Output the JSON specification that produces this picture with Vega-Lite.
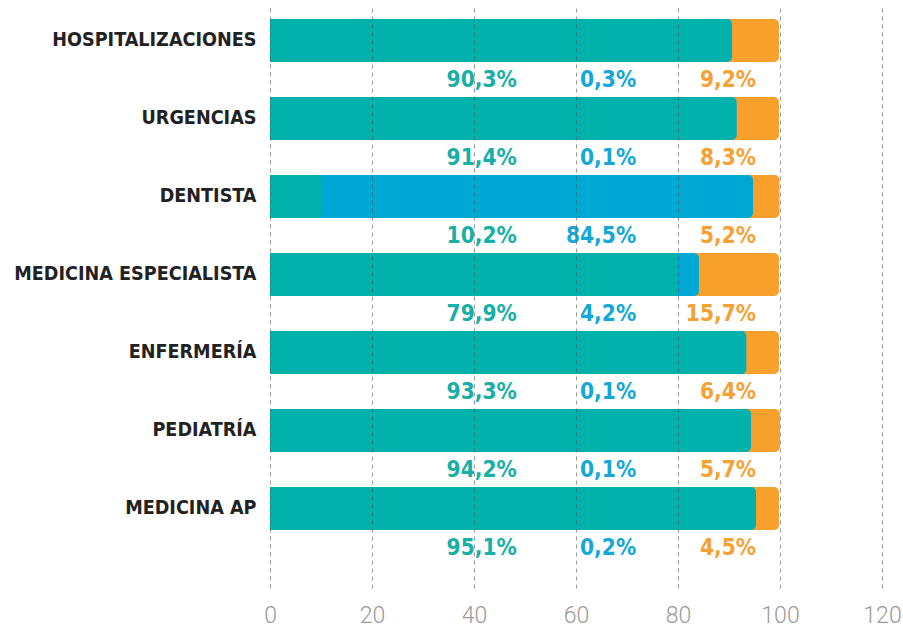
{
  "$schema": "https://vega.github.io/schema/vega-lite/v6.json",
  "autosize": {"type": "none"},
  "width": 612,
  "height": 580,
  "padding": {"left": 270, "top": 8, "right": 21, "bottom": 41},
  "background": "white",
  "config": {"view": {"stroke": null}},
  "data": {"values": [
    {"cat": "HOSPITALIZACIONES", "serie": "A", "o": 1, "v": 90.3},
    {"cat": "HOSPITALIZACIONES", "serie": "B", "o": 2, "v": 0.3},
    {"cat": "HOSPITALIZACIONES", "serie": "C", "o": 3, "v": 9.2},
    {"cat": "URGENCIAS", "serie": "A", "o": 1, "v": 91.4},
    {"cat": "URGENCIAS", "serie": "B", "o": 2, "v": 0.1},
    {"cat": "URGENCIAS", "serie": "C", "o": 3, "v": 8.3},
    {"cat": "DENTISTA", "serie": "A", "o": 1, "v": 10.2},
    {"cat": "DENTISTA", "serie": "B", "o": 2, "v": 84.5},
    {"cat": "DENTISTA", "serie": "C", "o": 3, "v": 5.2},
    {"cat": "MEDICINA ESPECIALISTA", "serie": "A", "o": 1, "v": 79.9},
    {"cat": "MEDICINA ESPECIALISTA", "serie": "B", "o": 2, "v": 4.2},
    {"cat": "MEDICINA ESPECIALISTA", "serie": "C", "o": 3, "v": 15.7},
    {"cat": "ENFERMERÍA", "serie": "A", "o": 1, "v": 93.3},
    {"cat": "ENFERMERÍA", "serie": "B", "o": 2, "v": 0.1},
    {"cat": "ENFERMERÍA", "serie": "C", "o": 3, "v": 6.4},
    {"cat": "PEDIATRÍA", "serie": "A", "o": 1, "v": 94.2},
    {"cat": "PEDIATRÍA", "serie": "B", "o": 2, "v": 0.1},
    {"cat": "PEDIATRÍA", "serie": "C", "o": 3, "v": 5.7},
    {"cat": "MEDICINA AP", "serie": "A", "o": 1, "v": 95.1},
    {"cat": "MEDICINA AP", "serie": "B", "o": 2, "v": 0.2},
    {"cat": "MEDICINA AP", "serie": "C", "o": 3, "v": 4.5}
  ]},
  "transform": [
    {"calculate": "replace(format(datum.v, '.1f'), '.', ',') + '%'", "as": "lbl"},
    {"stack": "v", "groupby": ["cat"], "sort": [{"field": "o", "order": "ascending"}], "as": ["s0", "s1"]}
  ],
  "encoding": {
    "y": {
      "field": "cat", "type": "nominal", "sort": null,
      "scale": {"paddingInner": 0.449, "paddingOuter": 0.4423, "align": 0.159},
      "axis": {
        "title": null, "domain": false, "ticks": false, "labelPadding": 14,
        "labelFont": "DejaVu Sans Condensed, Liberation Sans Narrow, DejaVu Sans",
        "labelFontWeight": "bold", "labelFontSize": 19.6, "labelColor": "#222222",
        "labelLimit": 400
      }
    }
  },
  "layer": [
    {
      "mark": {"type": "bar", "cornerRadiusTopRight": 5, "cornerRadiusBottomRight": 5},
      "encoding": {
        "x": {
          "field": "s1", "type": "quantitative", "stack": null,
          "scale": {"domain": [0, 120], "nice": false, "zero": true},
          "axis": {
            "title": null, "domain": false, "ticks": false, "values": [0, 20, 40, 60, 80, 100, 120],
            "grid": true, "gridDash": [4, 4], "gridColor": "#555555", "gridOpacity": 0.6, "gridWidth": 1,
            "zindex": 1, "labelPadding": 16, "labelFlush": false, "labelFont": "Roboto", "labelFontWeight": 300,
            "labelFontSize": 23, "labelColor": "#9a9a9a"
          }
        },
        "color": {
          "field": "serie", "type": "nominal",
          "scale": {"domain": ["A", "B", "C"], "range": ["#00B2AB", "#00A8D6", "#F7A12C"]},
          "legend": null
        },
        "order": {"field": "o", "type": "quantitative", "sort": "descending"}
      }
    },
    {
      "transform": [{"filter": "datum.serie == 'A'"}],
      "mark": {"type": "text", "align": "right", "baseline": "middle", "dy": 40,
        "font": "DejaVu Sans Condensed, Liberation Sans Narrow, DejaVu Sans", "fontWeight": "bold", "fontSize": 22.5, "color": "#17AFA6"},
      "encoding": {"x": {"datum": 48.4, "type": "quantitative"}, "text": {"field": "lbl"}}
    },
    {
      "transform": [{"filter": "datum.serie == 'B'"}],
      "mark": {"type": "text", "align": "right", "baseline": "middle", "dy": 40,
        "font": "DejaVu Sans Condensed, Liberation Sans Narrow, DejaVu Sans", "fontWeight": "bold", "fontSize": 22.5, "color": "#14A7D8"},
      "encoding": {"x": {"datum": 71.8, "type": "quantitative"}, "text": {"field": "lbl"}}
    },
    {
      "transform": [{"filter": "datum.serie == 'C'"}],
      "mark": {"type": "text", "align": "right", "baseline": "middle", "dy": 40,
        "font": "DejaVu Sans Condensed, Liberation Sans Narrow, DejaVu Sans", "fontWeight": "bold", "fontSize": 22.5, "color": "#F5A133"},
      "encoding": {"x": {"datum": 95.3, "type": "quantitative"}, "text": {"field": "lbl"}}
    }
  ]
}
